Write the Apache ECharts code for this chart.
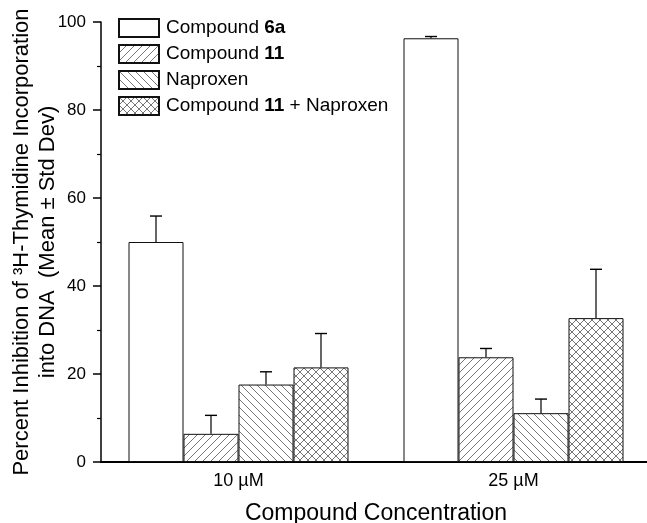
<!DOCTYPE html>
<html>
<head>
<meta charset="utf-8">
<script src="https://cdn.jsdelivr.net/npm/echarts@6/dist/echarts.min.js"></script>
<style>
html,body{margin:0;padding:0;background:#fff;}
#chart{width:647px;height:523px;}
</style>
</head>
<body>
<div id="chart"></div>
<script>
// ---- Data ----
const categories = ['10 µM', '25 µM'];
const seriesNames = ['Compound 6a', 'Compound 11', 'Naproxen', 'Compound 11 + Naproxen'];
const compound6a = [50.0, 96.3];
const compound6aErr = [5.9, 0.4];
const compound11 = [6.4, 23.8];
const compound11Err = [4.2, 2.0];
const naproxen = [17.6, 11.1];
const naproxenErr = [2.9, 3.2];
const combo = [21.5, 32.7];
const comboErr = [7.7, 11.1];
const yTicks = [0, 20, 40, 60, 80, 100];

const values = [compound6a, compound11, naproxen, combo];
const errors = [compound6aErr, compound11Err, naproxenErr, comboErr];

// ---- Hatch patterns ----
function makePattern(kind) {
  const s = 8;
  const c = document.createElement('canvas');
  c.width = s; c.height = s;
  const ctx = c.getContext('2d');
  ctx.fillStyle = '#fff';
  ctx.fillRect(0, 0, s, s);
  ctx.strokeStyle = '#777';
  ctx.lineWidth = 1;
  function fwd() { // "/"
    ctx.beginPath();
    ctx.moveTo(-2, s + 2); ctx.lineTo(s + 2, -2);
    ctx.moveTo(-2, 2); ctx.lineTo(2, -2);
    ctx.moveTo(s - 2, s + 2); ctx.lineTo(s + 2, s - 2);
    ctx.stroke();
  }
  function back() { // "\"
    ctx.beginPath();
    ctx.moveTo(-2, -2); ctx.lineTo(s + 2, s + 2);
    ctx.moveTo(s - 2, -2); ctx.lineTo(s + 2, 2);
    ctx.moveTo(-2, s - 2); ctx.lineTo(2, s + 2);
    ctx.stroke();
  }
  if (kind === 'fwd') fwd();
  else if (kind === 'back') back();
  else { fwd(); back(); }
  return { image: c, repeat: 'repeat' };
}

const fills = ['#ffffff', makePattern('fwd'), makePattern('back'), makePattern('cross')];

const FONT = 'Liberation Sans, Arial, Helvetica, sans-serif';

const barSeries = seriesNames.map((name, i) => ({
  name: name,
  type: 'bar',
  data: values[i],
  barGap: '0%',
  barCategoryGap: '20%',
  itemStyle: { color: fills[i], borderColor: '#111', borderWidth: 1 },
  emphasis: { disabled: true },
  animation: false
}));

const errData = [];
values.forEach((vals, si) => {
  vals.forEach((v, ci) => errData.push([ci, v, errors[si][ci], si]));
});

const errSeries = {
  type: 'custom',
  name: 'err',
  data: errData,
  z: 5,
  animation: false,
  renderItem: function (params, api) {
    const ci = api.value(0), v = api.value(1), e = api.value(2), si = api.value(3);
    const top = api.coord([ci, v]);
    const hi = api.coord([ci, v + e]);
    const band = api.size([1, 0])[0];
    const bw = band * 0.8 / 4;
    const x = top[0] + (si - 1.5) * bw;
    return {
      type: 'group',
      children: [
        { type: 'line', shape: { x1: x, y1: top[1], x2: x, y2: hi[1] }, style: { stroke: '#000', lineWidth: 1.2 } },
        { type: 'line', shape: { x1: x - 6, y1: hi[1], x2: x + 6, y2: hi[1] }, style: { stroke: '#000', lineWidth: 1.4 } }
      ]
    };
  }
};

const chart = echarts.init(document.getElementById('chart'), null, { renderer: 'canvas' });
chart.setOption({
  backgroundColor: '#fff',
  animation: false,
  textStyle: { fontFamily: FONT, color: '#000' },
  grid: { left: 101, top: 22, width: 550, bottom: 61, containLabel: false, outerBoundsMode: 'none' },
  legend: {
    data: seriesNames,
    orient: 'vertical',
    left: 113,
    top: 13,
    icon: 'rect',
    itemWidth: 40,
    itemHeight: 18,
    itemGap: 6,
    selectedMode: false,
    formatter: function (name) {
      if (name === 'Compound 6a') return 'Compound {b|6a}';
      if (name === 'Compound 11') return 'Compound {b|11}';
      if (name === 'Compound 11 + Naproxen') return 'Compound {b|11} + Naproxen';
      return name;
    },
    textStyle: {
      fontFamily: FONT, fontSize: 19, color: '#000', padding: [0, 0, 0, 2],
      rich: { b: { fontWeight: 'bold', fontSize: 19, fontFamily: FONT, color: '#000' } }
    }
  },
  xAxis: {
    type: 'category',
    data: categories,
    boundaryGap: true,
    axisLine: { show: true, lineStyle: { color: '#000', width: 2 } },
    axisTick: { show: false },
    axisLabel: { fontSize: 18, color: '#000', margin: 10, fontFamily: FONT },
    name: 'Compound Concentration',
    nameLocation: 'middle',
    nameGap: 40,
    nameMoveOverlap: false,
    nameTextStyle: { fontSize: 23, color: '#000', fontFamily: FONT }
  },
  yAxis: {
    type: 'value',
    min: yTicks[0],
    max: yTicks[yTicks.length - 1],
    interval: yTicks[1] - yTicks[0],
    axisLine: { show: true, lineStyle: { color: '#000', width: 1.5 } },
    axisTick: { show: true, length: 8, lineStyle: { color: '#000', width: 1.5 } },
    minorTick: { show: true, splitNumber: 2, length: 4, lineStyle: { color: '#000', width: 1.2 } },
    splitLine: { show: false },
    axisLabel: { fontSize: 17, color: '#000', margin: 15, fontFamily: FONT },
    name: 'Percent Inhibition of ³H-Thymidine Incorporation\ninto DNA  (Mean ± Std Dev)',
    nameLocation: 'middle',
    nameGap: 40,
    nameMoveOverlap: false,
    nameTextStyle: { fontSize: 22, color: '#000', lineHeight: 26, fontFamily: FONT }
  },
  series: barSeries.concat([errSeries])
});
</script>
</body>
</html>
